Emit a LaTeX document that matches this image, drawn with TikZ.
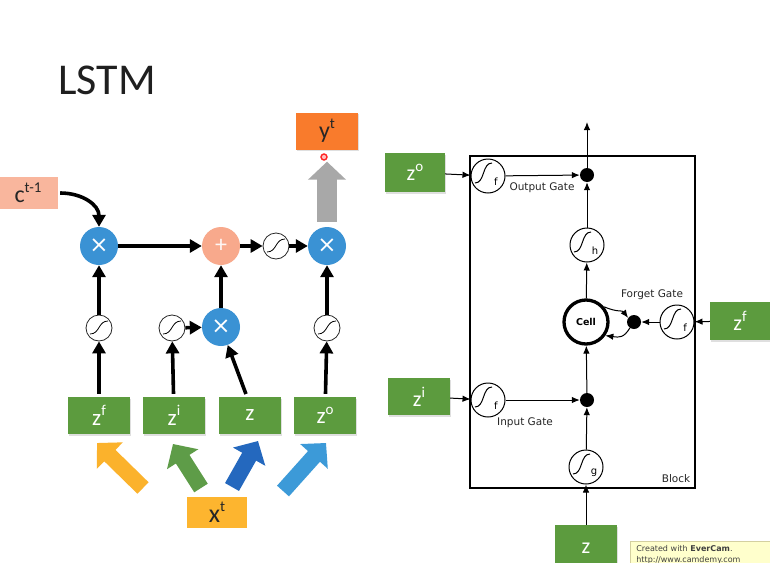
\documentclass[tikz,border=0pt]{standalone}
\usepackage{fontspec}
\setmainfont{Carlito}
\newfontfamily\djv{DejaVu Sans}
\usetikzlibrary{arrows.meta,shadows}
\definecolor{zgreen}{HTML}{5C9B3E}
\definecolor{mblue}{HTML}{3A92D4}
\definecolor{psalmon}{HTML}{F8A98C}
\definecolor{csalmon}{HTML}{F9B69D}
\definecolor{yorange}{HTML}{F97B2C}
\definecolor{xyellow}{HTML}{FDB52F}
\definecolor{ayellow}{HTML}{FBB22C}
\definecolor{agreen}{HTML}{5E9C48}
\definecolor{ablue}{HTML}{2468BE}
\definecolor{alblue}{HTML}{3C9AD8}
\definecolor{agray}{HTML}{A8A8A8}
\definecolor{evfill}{HTML}{FFFFCC}
\definecolor{evdraw}{HTML}{D4D0A0}
\newcommand\supl[1]{\raisebox{0.42em}{\fontsize{15}{15}\selectfont #1}}
\begin{document}
\begin{tikzpicture}[x=1pt,y=-1pt,
  zbox/.style={rectangle, minimum width=62pt, minimum height=37pt, inner sep=0pt,
    fill=zgreen, text=white, font=\fontsize{23}{23}\selectfont,
    drop shadow={opacity=0.25, shadow xshift=1pt, shadow yshift=-1.5pt}},
  zboxr/.style={zbox, font=\fontsize{22}{22}\selectfont},
  mcirc/.style={circle, fill=mblue, minimum size=38pt, inner sep=0pt, text=white,
    font=\djv\fontsize{23}{23}\selectfont},
  pcirc/.style={circle, fill=psalmon, minimum size=38pt, inner sep=0pt, text=white!90!psalmon,
    font=\fontsize{24}{24}\selectfont},
  scirc/.style={circle, draw=black!85, line width=0.8pt, fill=white, minimum size=26pt, inner sep=0pt},
  gcirc/.style={circle, draw=black, line width=1pt, fill=white, minimum size=34pt, inner sep=0pt},
  bdot/.style={circle, fill=black, minimum size=14pt, inner sep=0pt},
  tk/.style={line width=3.6pt, -{Triangle[length=12pt,width=13pt]}},
  tn/.style={line width=1pt, -{Latex[length=8pt,width=6.5pt]}},
  bigarrow/.style={line width=16pt, -{Triangle[length=18pt,width=36pt]}},
  lbl/.style={font=\djv\fontsize{10.5}{12}\selectfont, text=black!85, inner sep=0pt},
  pics/sigs/.style={code={\draw[line width=0.8pt] (-9,6) .. controls (1,6) and (-1,-7) .. (9,-7);}},
  pics/sigr/.style={code={\draw[line width=1pt] (-13,7) .. controls (-3,7) and (-6,-13) .. (4,-13);
     \node[font=\djv\fontsize{10}{10}\selectfont, inner sep=0pt] at (8,6) {#1};}},
]
\useasboundingbox (0,0) rectangle (770,562);
\clip (0,0) rectangle (770,562);
\fill[white] (0,0) rectangle (770,562);

% ---------- title ----------
\node[font=\fontsize{44}{44}\selectfont, text=black!88, anchor=west, inner sep=0pt] (title) at (58,80) {LSTM};

% ---------- left diagram ----------
\node[rectangle, fill=csalmon, minimum width=60pt, minimum height=32pt, inner sep=0pt,
  font=\fontsize{24}{24}\selectfont, text=black!85] (cprev) at (28,193) {c\supl{t-1}};
\node[rectangle, fill=yorange, minimum width=62pt, minimum height=37pt, inner sep=0pt,
  font=\fontsize{24}{24}\selectfont, text=black!85,
  drop shadow={opacity=0.25, shadow xshift=1pt, shadow yshift=-1.5pt}] (yt) at (327,131) {y\supl{t}};
\node[rectangle, fill=xyellow, minimum width=60pt, minimum height=31pt, inner sep=0pt,
  font=\fontsize{26}{26}\selectfont, text=black!85] (xt) at (217,512) {x\supl{t}};

\node[mcirc] (m1) at (99,246) {×};
\node[pcirc] (pl) at (221,246) {+};
\node[scirc] (s1) at (276,246) {};
\node[mcirc] (m2) at (327,246) {×};
\node[mcirc] (m3) at (221,327) {×};
\node[scirc] (sf) at (99,328) {};
\node[scirc] (si) at (172,328) {};
\node[scirc] (so) at (327,328) {};
\pic at (s1) {sigs}; \pic at (sf) {sigs}; \pic at (si) {sigs}; \pic at (so) {sigs};

\node[zbox] (zf) at (99,415.5) {z\supl{f}};
\node[zbox] (zi) at (174,415.5) {z\supl{i}};
\node[zbox] (zz) at (250,415.5) {z};
\node[zbox] (zo) at (325,415.5) {z\supl{o}};

\draw[tk] ([xshift=2pt]cprev.east) .. controls +(22,0) and +(0,-22) .. (m1.north);
\draw[tk] (m1) -- (pl);
\draw[tk] (pl) -- (s1);
\draw[tk] (s1) -- (m2);
\draw[tk] (sf) -- (m1);
\draw[tk] (m3) -- (pl);
\draw[tk] (so) -- (m2);
\draw[tk] (si) -- (m3);
\draw[tk, shorten <=3pt] (zf) -- (sf);
\draw[tk, shorten <=3pt] (zi) -- (si);
\draw[tk, shorten <=3pt] (zo) -- (so);
\draw[tk, shorten <=3pt] ([xshift=-3pt]zz.north) -- (m3);

% gray output arrow and pointer dot
\draw[agray, line width=20pt, -{Triangle[length=18pt,width=37pt]}, shorten <=5pt, shorten >=12pt] (m2.north) -- (yt.south);
\node[circle, draw=red!85, fill=red!25, line width=1.4pt, minimum size=6pt, inner sep=0pt] (ptr) at (324,157) {};

% big input arrows
\coordinate (ay0) at (143,488); \coordinate (ay1) at (97,443);
\coordinate (ag0) at (201,488); \coordinate (ag1) at (173,444);
\coordinate (ab0) at (232,487); \coordinate (ab1) at (258,441);
\coordinate (al0) at (283,491); \coordinate (al1) at (326,443);
\draw[bigarrow, ayellow] (ay0) -- (ay1);
\draw[bigarrow, agreen] (ag0) -- (ag1);
\draw[bigarrow, ablue] (ab0) -- (ab1);
\draw[bigarrow, alblue] (al0) -- (al1);

% ---------- right diagram ----------
\draw[line width=1.5pt] (470,156) rectangle (695,488);

\node[zboxr, minimum width=60pt, minimum height=39pt] (zo2) at (415,172.5) {z\supl{o}};
\node[zboxr, minimum width=60pt, minimum height=38pt] (zf2) at (740,321) {z\supl{f}};
\node[zboxr] (zi2) at (419,396.5) {z\supl{i}};
\node[zboxr, minimum height=46pt] (zz2) at (586,548) {z};

\node[gcirc] (sgo) at (488,176) {};
\node[gcirc] (sgh) at (587,245) {};
\node[gcirc] (sgf) at (677,322) {};
\node[gcirc] (sgi) at (488,400) {};
\node[gcirc] (sgg) at (586,467) {};
\pic at (sgo) {sigr=f}; \pic at (sgh) {sigr=h}; \pic at (sgf) {sigr=f};
\pic at (sgi) {sigr=f}; \pic at (sgg) {sigr=g};

\node[bdot] (odot) at (587,175) {};
\node[bdot] (fdot) at (634,322) {};
\node[bdot] (idot) at (587,400) {};
\node[circle, draw=black, line width=3.3pt, fill=white, minimum size=44pt, inner sep=0pt,
  font=\djv\bfseries\fontsize{9.5}{10}\selectfont] (cell) at (586,322) {Cell};
\coordinate (top) at (587,122);

\draw[tn] (zo2) -- (sgo);
\draw[tn] (sgo) -- (odot);
\draw[tn] (sgh) -- (odot);
\draw[tn] (odot) -- (top);
\draw[tn] (cell) -- (sgh);
\draw[tn] (zf2) -- (sgf);
\draw[tn] (sgf) -- (fdot);
\draw[tn] (cell.40) .. controls +(14,6) and +(-6,-8) .. (fdot.145);
\draw[tn] (fdot.235) .. controls +(-6,10) and +(14,2) .. (cell.-35);
\draw[tn] (zi2) -- (sgi);
\draw[tn] (sgi) -- (idot);
\draw[tn] (idot) -- (cell);
\draw[tn] (sgg) -- (idot);
\draw[tn] (zz2) -- (sgg);

\node[lbl] (lout) at (542,188) {Output Gate};
\node[lbl] (lfor) at (652,295) {Forget Gate};
\node[lbl] (lin) at (525,423) {Input Gate};
\node[lbl] (lblk) at (676,479) {Block};

% ---------- EverCam stamp ----------
\node[rectangle, fill=evfill, draw=evdraw, line width=0.8pt, anchor=north west, align=left,
  text width=128pt, inner xsep=6pt, inner ysep=4pt, text=black!75,
  font=\djv\fontsize{8}{11.5}\selectfont] (ever) at (630,541)
  {Created with \textbf{EverCam}.\\http://www.camdemy.com};
\end{tikzpicture}
\end{document}
